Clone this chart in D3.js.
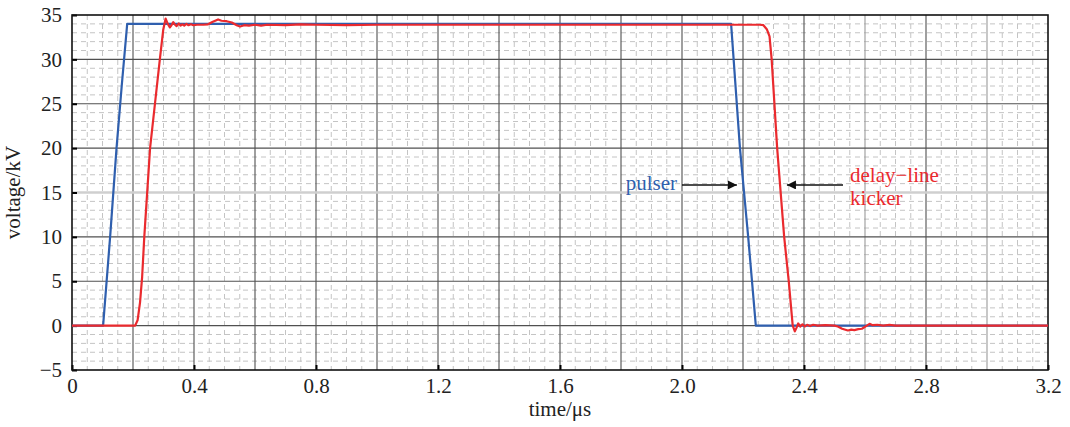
<!DOCTYPE html>
<html>
<head>
<meta charset="utf-8">
<script src="https://cdn.jsdelivr.net/npm/d3@7"></script>
<style>
  body { margin: 0; background: #fff; }
  svg text { font-family: "Liberation Serif", "Times New Roman", serif; }
</style>
</head>
<body>
<script>
// pulser (blue) trace, time in us, voltage in kV
const pulserT = [0, 0.102, 0.125, 0.146, 0.163, 0.181, 2.161, 2.19, 2.217, 2.242, 3.2];
const pulserV = [0, 0, 10, 20, 27, 34.0, 34.0, 20, 10, 0, 0];

// delay-line kicker (red) trace
const kickerT = [0, 0.207, 0.215, 0.223, 0.23, 0.237, 0.256, 0.272, 0.288, 0.299, 0.307, 0.314, 0.321, 0.327,
  0.332, 0.338, 0.343, 0.35, 0.356, 0.362, 0.368, 0.375, 0.382, 0.39, 0.398, 0.41, 0.43, 0.446, 0.46, 0.479,
  0.49, 0.507, 0.524, 0.54, 0.551, 0.565, 0.58, 0.6, 0.62, 0.64, 0.7, 0.75, 0.8, 0.9, 1.0, 1.5, 2.0, 2.255,
  2.267, 2.278, 2.287, 2.294, 2.312, 2.335, 2.35, 2.363, 2.37, 2.376, 2.381, 2.388, 2.395, 2.403, 2.41, 2.42,
  2.43, 2.445, 2.47, 2.5, 2.511, 2.525, 2.544, 2.555, 2.565, 2.578, 2.59, 2.606, 2.615, 2.625, 2.64, 2.66,
  2.68, 2.7, 2.8, 3.2];
const kickerV = [0, 0, 0.6, 2.6, 5.5, 10, 20, 25, 30, 33.3, 34.6, 34.0, 33.6, 33.9,
  34.2, 33.9, 33.75, 34.05, 33.8, 33.95, 33.8, 34.0, 33.85, 33.95, 33.85, 33.9, 33.9, 33.95, 34.2, 34.5,
  34.35, 34.3, 34.15, 33.85, 33.7, 33.85, 33.8, 33.9, 33.8, 33.9, 33.85, 33.95, 33.9, 33.85, 33.9, 33.9, 33.9, 33.9,
  33.85, 33.4, 32.6, 30, 20, 10, 5, 0, -0.65, -0.2, 0.25, -0.1, 0.15, -0.1, 0.1, -0.05,
  0.1, 0, 0.05, 0, -0.1, -0.35, -0.55, -0.45, -0.5, -0.4, -0.35, 0, 0.2, 0.05, 0.1, 0,
  0.08, 0, 0, 0];

const xTicks = [0, 0.4, 0.8, 1.2, 1.6, 2.0, 2.4, 2.8, 3.2];
const xTickLabels = ["0", "0.4", "0.8", "1.2", "1.6", "2.0", "2.4", "2.8", "3.2"];
const yTicks = [-5, 0, 5, 10, 15, 20, 25, 30, 35];
const yTickLabels = ["\u22125", "0", "5", "10", "15", "20", "25", "30", "35"];

const margin = { top: 15, right: 22, bottom: 57, left: 72 };
const width = 1070 - margin.left - margin.right;
const height = 427 - margin.top - margin.bottom;

const svg = d3.select("body")
  .append("svg")
  .attr("width", 1070)
  .attr("height", 427)
  .append("g")
  .attr("transform", `translate(${margin.left}, ${margin.top})`);

const x = d3.scaleLinear().domain([0, 3.2]).range([0, width]);
const y = d3.scaleLinear().domain([-5, 35]).range([height, 0]);

// minor dashed grid
const minorX = d3.range(0.05, 3.2, 0.05).filter(v => Math.abs(v / 0.2 - Math.round(v / 0.2)) > 1e-6);
const minorY = d3.range(-4, 35, 1).filter(v => v % 5 !== 0);

svg.append("g").selectAll("line")
  .data(minorX).enter().append("line")
  .attr("x1", d => x(d)).attr("x2", d => x(d))
  .attr("y1", 0).attr("y2", height)
  .attr("stroke", "#c4c4c4").attr("stroke-width", 1).attr("stroke-dasharray", "5,4");

svg.append("g").selectAll("line")
  .data(minorY).enter().append("line")
  .attr("x1", 0).attr("x2", width)
  .attr("y1", d => y(d)).attr("y2", d => y(d))
  .attr("stroke", "#c4c4c4").attr("stroke-width", 1).attr("stroke-dasharray", "5,4");

// major grid
const majorX = d3.range(0.2, 3.2, 0.2);
const majorY = [0, 5, 10, 15, 20, 25, 30];

svg.append("g").selectAll("line")
  .data(majorX).enter().append("line")
  .attr("x1", d => x(d)).attr("x2", d => x(d))
  .attr("y1", 0).attr("y2", height)
  .attr("stroke", d => (Math.abs(d - 2.6) < 1e-6 || Math.abs(d - 3.0) < 1e-6) ? "#9a9a9a" : "#505050")
  .attr("stroke-width", 1.1);

svg.append("g").selectAll("line")
  .data(majorY).enter().append("line")
  .attr("x1", 0).attr("x2", width)
  .attr("y1", d => y(d)).attr("y2", d => y(d))
  .attr("stroke", d => d === 15 ? "#cfcfcf" : "#505050")
  .attr("stroke-width", d => d === 15 ? 2.5 : 1.1);

// axes
const xAxis = svg.append("g")
  .attr("transform", `translate(0, ${height})`)
  .call(d3.axisBottom(x).tickValues(xTicks).tickFormat((d, i) => xTickLabels[i])
    .tickSizeInner(-5).tickSizeOuter(0).tickPadding(8));

const yAxis = svg.append("g")
  .call(d3.axisLeft(y).tickValues(yTicks).tickFormat((d, i) => yTickLabels[i])
    .tickSizeInner(-5).tickSizeOuter(0).tickPadding(10));

[xAxis, yAxis].forEach(a => {
  a.select(".domain").remove();
  a.selectAll(".tick line").attr("stroke", "#000").attr("stroke-width", 2);
  a.selectAll(".tick text").attr("font-size", 21).attr("fill", "#222")
    .style("font-family", '"Liberation Serif", "Times New Roman", serif');
});

// frame
svg.append("rect")
  .attr("width", width).attr("height", height)
  .attr("fill", "none").attr("stroke", "#111").attr("stroke-width", 1.6);

// traces
const line = d3.line().x(d => x(d[0])).y(d => y(d[1]));

svg.append("path")
  .datum(pulserT.map((t, i) => [t, pulserV[i]]))
  .attr("d", line).attr("fill", "none")
  .attr("stroke", "#2f5fae").attr("stroke-width", 2.2).attr("stroke-linejoin", "round");

svg.append("path")
  .datum(kickerT.map((t, i) => [t, kickerV[i]]))
  .attr("d", line).attr("fill", "none")
  .attr("stroke", "#ea2a2e").attr("stroke-width", 2.2).attr("stroke-linejoin", "round");

// annotations
const defs = svg.append("defs");
defs.append("marker")
  .attr("id", "arr").attr("viewBox", "0 0 10 10")
  .attr("refX", 10).attr("refY", 5)
  .attr("markerWidth", 11).attr("markerHeight", 9)
  .attr("markerUnits", "userSpaceOnUse")
  .attr("orient", "auto")
  .append("path").attr("d", "M0,0L10,5L0,10Z").attr("fill", "#111");

svg.append("line")
  .attr("x1", x(2.0)).attr("x2", x(2.18))
  .attr("y1", y(15.85)).attr("y2", y(15.85))
  .attr("stroke", "#111").attr("stroke-width", 1.6).attr("marker-end", "url(#arr)");

svg.append("line")
  .attr("x1", x(2.528)).attr("x2", x(2.344))
  .attr("y1", y(15.85)).attr("y2", y(15.85))
  .attr("stroke", "#111").attr("stroke-width", 1.6).attr("marker-end", "url(#arr)");

svg.append("text")
  .attr("x", x(1.984)).attr("y", y(15.3))
  .attr("text-anchor", "end").attr("font-size", 21).attr("fill", "#2f5fae")
  .text("pulser");

svg.append("text")
  .attr("x", x(2.551)).attr("y", y(16.2))
  .attr("font-size", 21).attr("fill", "#ea2a2e")
  .text("delay\u2212line");

svg.append("text")
  .attr("x", x(2.551)).attr("y", y(13.6))
  .attr("font-size", 21).attr("fill", "#ea2a2e")
  .text("kicker");

// axis titles
svg.append("text")
  .attr("x", width / 2).attr("y", height + 46)
  .attr("text-anchor", "middle").attr("font-size", 21).attr("fill", "#222")
  .text("time/\u03bcs");

svg.append("text")
  .attr("transform", `translate(${-52}, ${height / 2}) rotate(-90)`)
  .attr("text-anchor", "middle").attr("font-size", 21).attr("fill", "#222")
  .text("voltage/kV");
</script>
</body>
</html>
